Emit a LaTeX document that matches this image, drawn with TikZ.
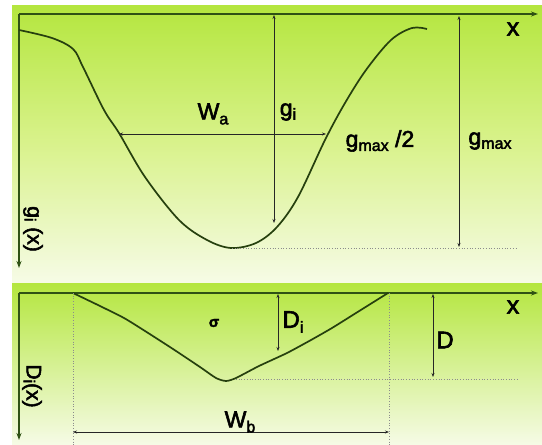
\documentclass[tikz,border=0pt]{standalone}
\usepackage{fontspec}
\setmainfont[FakeBold=2.5]{Liberation Sans}
\usetikzlibrary{arrows.meta}
\definecolor{gtop}{HTML}{B4E63E}
\definecolor{gmid}{HTML}{D9F28C}
\definecolor{gbot}{HTML}{F6FBE6}
\definecolor{curvecol}{HTML}{26400E}
\definecolor{axiscol}{HTML}{2F5214}
\newcommand{\mysub}[2][4pt]{\raisebox{-#1}{\fontsize{16}{18}\selectfont #2}}
\tikzset{
  axis/.style={draw=axiscol, line width=1.3pt, -{Stealth[length=7pt,width=5pt]}},
  curve/.style={draw=curvecol, line width=1.7pt, line join=round},
  meas/.style={draw=black!85, line width=0.7pt, {Stealth[length=4pt,width=3pt]}-{Stealth[length=4pt,width=3pt]}},
  guide/.style={draw=black!45, line width=0.7pt, dotted},
  lbl/.style={font=\fontsize{23}{26}\selectfont, text=black, inner sep=0pt},
  rlbl/.style={font=\fontsize{21}{24}\selectfont, text=black, inner sep=0pt, rotate=-90},
}
\begin{document}
\begin{tikzpicture}[x=1pt,y=-1pt]
\useasboundingbox (0,0) rectangle (542,445);
\fill[white] (0,0) rectangle (542,445);
% backgrounds
\shade[top color=gtop, bottom color=gbot, middle color=gmid] (12,5) rectangle (542,283);
\shade[top color=gtop, bottom color=gbot] (12,283) rectangle (542,445);

% ---------- top panel ----------
\coordinate (o1) at (19,14);
\coordinate (xa1) at (538,14);
\coordinate (ya1) at (19,268);
\draw[axis] (o1) -- (xa1);
\draw[axis] (o1) -- (ya1);

\draw[curve] plot[smooth, tension=0.55] coordinates {
 (19,30) (52,38) (73,49) (83,67) (104,110) (119,133) (145,177) (179,220)
 (207,240) (231,248) (256,243) (277,227) (298,197) (325,140) (345,103)
 (366,70) (391,40) (412,28) (427,29)};

\coordinate (gi1) at (274,15);
\coordinate (gi2) at (274,223);
\draw[meas] (gi1) -- (gi2);
\coordinate (wa1) at (119,134);
\coordinate (wa2) at (326,134);
\draw[meas] (wa1) -- (wa2);
\coordinate (gm1) at (459,16);
\coordinate (gm2) at (459,247);
\draw[meas] (gm1) -- (gm2);
\coordinate (d1a) at (232,248);
\coordinate (d1b) at (518,248);
\draw[guide] (d1a) -- (d1b);

\node[lbl, font=\fontsize{25}{28}\selectfont] (x1) at (513,29) {x};
\node[lbl] (wa) at (213,114) {W\mysub[5pt]{a}};
\node[lbl] (gi) at (288,112) {g\mysub{i}};
\node[lbl] (gh) at (380,141) {g\mysub{max} /2};
\node[lbl] (gm) at (490,141) {g\mysub{max}};
\node[rlbl] (gx) at (33,229) {g\mysub[3pt]{i} (x)};

% ---------- bottom panel ----------
\coordinate (o2) at (19,293);
\coordinate (xa2) at (538,293);
\coordinate (ya2) at (19,440);
\draw[axis] (o2) -- (xa2);
\draw[axis] (o2) -- (ya2);

\draw[curve] plot[smooth, tension=0.4] coordinates {
 (73,293) (100,306) (124,318) (145,331) (173,349) (200,367) (216,378)
 (226,381) (236,378) (259,366) (287,353) (311,340) (332,328) (356,313) (388,293)};

\coordinate (v1a) at (73,293);
\coordinate (v1b) at (73,445);
\coordinate (v2a) at (389,293);
\coordinate (v2b) at (389,445);
\draw[guide] (v1a) -- (v1b);
\draw[guide] (v2a) -- (v2b);
\coordinate (d2a) at (236,379);
\coordinate (d2b) at (518,379);
\draw[guide] (d2a) -- (d2b);

\coordinate (di1) at (278,294);
\coordinate (di2) at (278,351);
\draw[meas] (di1) -- (di2);
\coordinate (dd1) at (433,294);
\coordinate (dd2) at (433,377);
\draw[meas] (dd1) -- (dd2);
\coordinate (wb1) at (73,432);
\coordinate (wb2) at (389,432);
\draw[meas] (wb1) -- (wb2);

\node[lbl, font=\fontsize{25}{28}\selectfont] (x2) at (513,307) {x};
\node[lbl, font=\fontsize{24}{28}\selectfont] (di) at (293,322) {D\mysub[5pt]{i}};
\node[lbl, font=\fontsize{24}{28}\selectfont] (dl) at (445,340) {D};
\node[lbl, font=\fontsize{15}{17}\selectfont\bfseries] (sg) at (214,323) {σ};
\node[lbl] (wb) at (240,422) {W\mysub[5pt]{b}};
\node[rlbl] (dx) at (32,386) {D\mysub[3pt]{i}(x)};
\end{tikzpicture}
\end{document}
